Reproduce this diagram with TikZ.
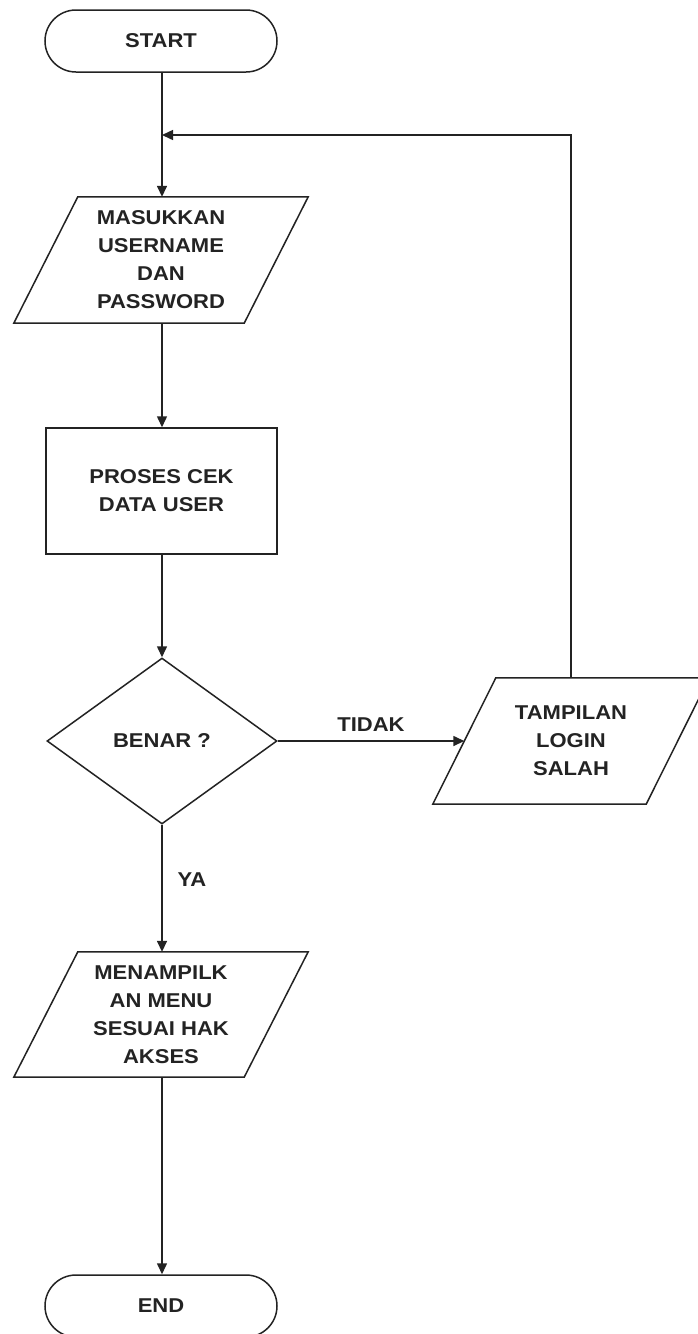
\documentclass[tikz,border=0pt]{standalone}
\usepackage{fontspec}
\newfontfamily\lblfont{Liberation Sans}[FakeStretch=1.1]
\usetikzlibrary{shapes.geometric,arrows.meta,calc}
\definecolor{ink}{RGB}{35,35,35}
\tikzset{
  lbl/.style={font=\lblfont\bfseries\fontsize{20}{28}\selectfont, text=ink, align=center},
  term/.style={lbl, draw=ink, line width=1.5pt, rectangle, rounded corners=31pt, minimum width=232pt, minimum height=62pt},
  procbox/.style={lbl, draw=ink, line width=1.5pt, rectangle, minimum width=231pt, minimum height=126pt},
  decbox/.style={lbl, draw=ink, line width=1.5pt, diamond, minimum width=230pt, minimum height=166pt, inner sep=0pt},
  iobox/.style={lbl, rectangle, inner sep=0pt},
  shapeline/.style={draw=ink, line width=1.5pt, line join=miter},
  flow/.style={draw=ink, line width=1.5pt, -{Triangle[length=11pt,width=10pt]}},
  edgelbl/.style={font=\lblfont\bfseries\fontsize{20}{24}\selectfont, text=ink}
}
\begin{document}
\begin{tikzpicture}[x=1pt,y=-1pt]
\useasboundingbox (0,0) rectangle (697,1334);
\fill[white] (0,0) rectangle (697,1334);

% nodes
\node[term] (start) at (161,41) {START};
\node[iobox, minimum width=294pt, minimum height=126pt] (p1) at (161,260) {MASUKKAN\\USERNAME\\DAN\\PASSWORD};
\node[procbox] (proc) at (161.5,491) {PROSES CEK\\DATA USER};
\node[decbox] (dec) at (162,741) {BENAR ?};
\node[iobox, minimum width=276pt, minimum height=126pt] (p2) at (571,741) {TAMPILAN\\LOGIN\\SALAH};
\node[iobox, minimum width=294pt, minimum height=125pt] (p3) at (161,1014.5) {MENAMPILK\\AN MENU\\SESUAI HAK\\AKSES};
\node[term] (end) at (161,1306) {END};

% parallelogram outlines
\draw[shapeline] ($(p1.north west)+(64,0)$) -- (p1.north east) -- ($(p1.south east)+(-64,0)$) -- (p1.south west) -- cycle;
\draw[shapeline] ($(p2.north west)+(63,0)$) -- (p2.north east) -- ($(p2.south east)+(-63,0)$) -- (p2.south west) -- cycle;
\draw[shapeline] ($(p3.north west)+(64,0)$) -- (p3.north east) -- ($(p3.south east)+(-64,0)$) -- (p3.south west) -- cycle;

% helper coordinates
\coordinate (join) at (162,135);
\coordinate (p2in) at ($(p2.west)+(31.5,0)$);

% connectors
\draw[flow] (start.south -| join) -- (p1.north -| join);
\draw[flow] (p2.north) |- (join);
\draw[flow] (p1.south -| join) -- (proc.north -| join);
\draw[flow] (proc.south -| join) -- (dec.north);
\draw[flow] (dec.east) -- (p2in);
\draw[flow] (dec.south) -- (p3.north -| dec.south);
\draw[flow] (p3.south -| dec.south) -- (end.north -| dec.south);

% labels
\node[edgelbl] (tidak) at (371,725) {TIDAK};
\node[edgelbl] (ya) at (192,880) {YA};
\end{tikzpicture}
\end{document}
